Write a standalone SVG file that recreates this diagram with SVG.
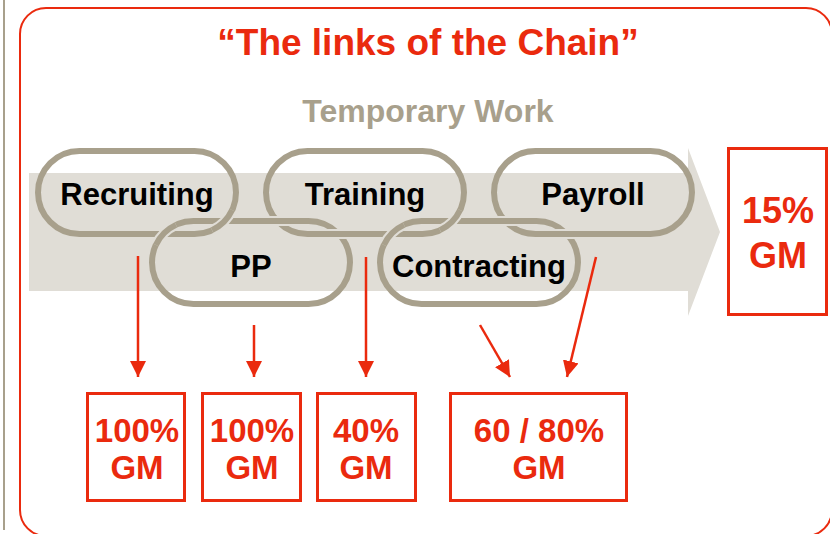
<svg xmlns="http://www.w3.org/2000/svg" xmlns:xlink="http://www.w3.org/1999/xlink" width="830" height="534" viewBox="0 0 830 534">
  <style>
    .title { font-family: "Liberation Sans", Arial, sans-serif; font-weight: bold; font-size: 37px; fill: #EA2A0E; text-anchor: middle; }
    .sub { font-family: "Liberation Sans", Arial, sans-serif; font-weight: bold; font-size: 32px; fill: #A8A08C; text-anchor: middle; }
    .lbl { font-family: "Liberation Sans", Arial, sans-serif; font-weight: bold; font-size: 31px; fill: #000; text-anchor: middle; }
    .gm { font-family: "Liberation Sans", Arial, sans-serif; font-weight: bold; font-size: 33px; fill: #EA2A0E; text-anchor: middle; }
    .gm-big { font-size: 36px; }
    .box { fill: #fff; stroke: #EA2A0E; stroke-width: 3; }
    .link { fill: none; stroke: #A8A08C; stroke-width: 6; }
    .halo { fill: none; stroke: #E0DDD6; stroke-width: 10; }
    .arrow { stroke: #EA2A0E; stroke-width: 2.5; fill: none; marker-end: url(#head); }
  </style>
  <defs>
    <marker id="head" markerUnits="userSpaceOnUse" markerWidth="17" markerHeight="17" refX="16" refY="8" orient="auto">
      <path d="M0,0 L16,8 L0,16 Z" fill="#EA2A0E"/>
    </marker>
    <!-- one chain link, centre-line of the stroke -->
    <path id="linkShape" d="M41.5,0 H156.5 A41.5,41.5 0 0 1 156.5,83 H41.5 A41.5,41.5 0 0 1 41.5,0 Z"/>
    <!-- short pieces redrawn on top where one link passes over its neighbour -->
    <path id="leftArcPiece" d="M3.89,23.96 A41.5,41.5 0 0 1 23.96,3.89"/>
    <path id="rightArcPiece" d="M194.11,59.04 A41.5,41.5 0 0 1 174.04,79.11"/>
    <path id="topLinePiece" d="M113,0 H138"/>
    <path id="bottomLinePiece" d="M60,83 H85"/>
  </defs>

  <!-- page edge and frame -->
  <line x1="4" y1="0" x2="4" y2="530" stroke="#A8A08C" stroke-width="2"/>
  <rect x="20" y="8" width="812" height="528" rx="26" ry="26" fill="#fff" stroke="#EA2A0E" stroke-width="2"/>

  <text class="title" x="428" y="55">“The links of the Chain”</text>
  <text class="sub" x="428" y="122">Temporary Work</text>

  <!-- process band -->
  <polygon points="29,173 688,173 688,148 720,232 688,316 688,291 29,291" fill="#E0DDD6"/>

  <g id="chain">
    <g id="link-recruiting" transform="translate(38,151)">
      <use xlink:href="#linkShape" class="link"/>
    </g>
    <g id="link-pp" transform="translate(152,221)">
      <use xlink:href="#linkShape" class="link"/>
    </g>
    <g id="link-training" transform="translate(266,151)">
      <use xlink:href="#linkShape" class="link"/>
    </g>
    <g id="link-contracting" transform="translate(380,221)">
      <use xlink:href="#linkShape" class="link"/>
    </g>
    <g id="link-payroll" transform="translate(494,151)">
      <use xlink:href="#linkShape" class="link"/>
    </g>

    <!-- interlocking crossings -->
    <g id="crossings">
      <g transform="translate(152,221)">
        <use xlink:href="#leftArcPiece" class="halo"/>
        <use xlink:href="#leftArcPiece" class="link"/>
        <use xlink:href="#topLinePiece" class="halo"/>
        <use xlink:href="#topLinePiece" class="link"/>
      </g>
      <g transform="translate(38,151)">
        <use xlink:href="#rightArcPiece" class="halo"/>
        <use xlink:href="#rightArcPiece" class="link"/>
      </g>
      <g transform="translate(266,151)">
        <use xlink:href="#bottomLinePiece" class="halo"/>
        <use xlink:href="#bottomLinePiece" class="link"/>
        <use xlink:href="#rightArcPiece" class="halo"/>
        <use xlink:href="#rightArcPiece" class="link"/>
      </g>
      <g transform="translate(380,221)">
        <use xlink:href="#leftArcPiece" class="halo"/>
        <use xlink:href="#leftArcPiece" class="link"/>
        <use xlink:href="#topLinePiece" class="halo"/>
        <use xlink:href="#topLinePiece" class="link"/>
      </g>
      <g transform="translate(494,151)">
        <use xlink:href="#bottomLinePiece" class="halo"/>
        <use xlink:href="#bottomLinePiece" class="link"/>
      </g>
    </g>

    <text class="lbl" x="137" y="205">Recruiting</text>
    <text class="lbl" x="251" y="277">PP</text>
    <text class="lbl" x="365" y="205">Training</text>
    <text class="lbl" x="479" y="277">Contracting</text>
    <text class="lbl" x="593" y="205">Payroll</text>
  </g>

  <g id="total-margin">
    <rect class="box" x="728.5" y="148.5" width="98" height="166"/>
    <text class="gm gm-big" x="778" y="223">15%</text>
    <text class="gm gm-big" x="778" y="268">GM</text>
  </g>

  <g id="connectors">
    <line class="arrow" x1="138" y1="256" x2="138" y2="377"/>
    <line class="arrow" x1="254" y1="325" x2="254" y2="377"/>
    <line class="arrow" x1="366" y1="257" x2="366" y2="377"/>
    <line class="arrow" x1="480" y1="325" x2="510" y2="377"/>
    <line class="arrow" x1="596" y1="257" x2="567" y2="377"/>
  </g>

  <g id="margin-recruiting">
    <rect class="box" x="87.5" y="393.5" width="97" height="107"/>
    <text class="gm" x="137" y="442">100%</text>
    <text class="gm" x="137" y="479">GM</text>
  </g>
  <g id="margin-pp">
    <rect class="box" x="202.5" y="393.5" width="98" height="107"/>
    <text class="gm" x="252" y="442">100%</text>
    <text class="gm" x="252" y="479">GM</text>
  </g>
  <g id="margin-training">
    <rect class="box" x="317.5" y="393.5" width="98" height="107"/>
    <text class="gm" x="366" y="442">40%</text>
    <text class="gm" x="366" y="479">GM</text>
  </g>
  <g id="margin-contracting-payroll">
    <rect class="box" x="450.5" y="393.5" width="176" height="107"/>
    <text class="gm" x="539" y="442">60 / 80%</text>
    <text class="gm" x="539" y="479">GM</text>
  </g>
</svg>
